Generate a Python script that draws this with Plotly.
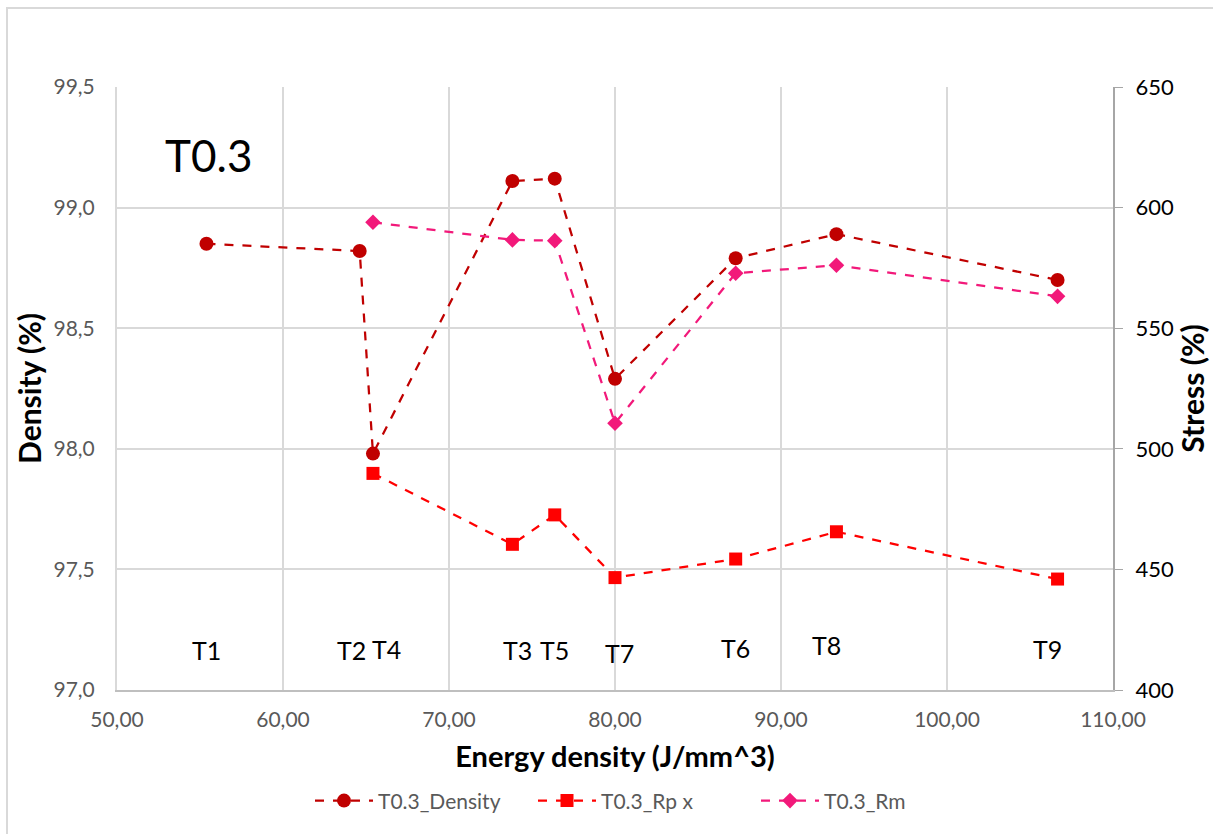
import plotly.graph_objects as go

# Sample names, ordered by energy density
samples = ["T1", "T2", "T4", "T3", "T5", "T7", "T6", "T8", "T9"]
energy = [55.39, 64.62, 65.42, 73.82, 76.37, 80.0, 87.27, 93.34, 106.66]
density = [98.85, 98.82, 97.98, 99.11, 99.12, 98.29, 98.79, 98.89, 98.70]
rp = [None, None, 489.8, 460.4, 472.6, 446.6, 454.3, 465.6, 446.0]
rm = [None, None, 593.9, 586.6, 586.3, 510.6, 572.8, 576.1, 563.2]

x_ticks = [50, 60, 70, 80, 90, 100, 110]
y1_ticks = [97.0, 97.5, 98.0, 98.5, 99.0, 99.5]
y2_ticks = [400, 450, 500, 550, 600, 650]

FONT = "Lato, Open Sans, sans-serif"
GRAY = "#595959"
GRID = "#d9d9d9"

fig = go.Figure()

fig.add_trace(go.Scatter(
    x=energy, y=density, name="T0.3_Density", mode="lines+markers",
    line=dict(color="#C00000", width=2.25, dash="dash"),
    marker=dict(symbol="circle", size=14, color="#C00000"),
    yaxis="y",
))
fig.add_trace(go.Scatter(
    x=energy, y=rp, name="T0.3_Rp x", mode="lines+markers",
    line=dict(color="#FF0000", width=2.25, dash="dash"),
    marker=dict(symbol="square", size=13, color="#FF0000"),
    yaxis="y2", connectgaps=False,
))
fig.add_trace(go.Scatter(
    x=energy, y=rm, name="T0.3_Rm", mode="lines+markers",
    line=dict(color="#F2197A", width=2.25, dash="dash"),
    marker=dict(symbol="diamond", size=12, color="#F2197A"),
    yaxis="y2", connectgaps=False,
))

# Sample labels placed just above the bottom of the plot
label_dx = {"T2": -0.5, "T4": 0.8, "T3": 0.3, "T7": 0.3, "T8": -0.6, "T9": -0.6}
label_y = {"T8": 97.185, "T6": 97.175, "T4": 97.17, "T9": 97.17, "T7": 97.155}
annotations = []
for s, xv in zip(samples, energy):
    annotations.append(dict(
        x=xv + label_dx.get(s, 0.0), y=label_y.get(s, 97.165),
        xref="x", yref="y", text=s, showarrow=False,
        font=dict(family=FONT, size=25, color="#000000"),
    ))
annotations.append(dict(
    x=52.75, y=99.22, xref="x", yref="y", text="T0.3", showarrow=False,
    xanchor="left", font=dict(family=FONT, size=44, color="#000000"),
))

fig.update_layout(
    width=1213, height=834,
    margin=dict(l=117, r=100, t=87, b=144),
    paper_bgcolor="white", plot_bgcolor="white",
    separators=",.",
    font=dict(family=FONT, color=GRAY),
    showlegend=True,
    legend=dict(
        orientation="h", x=(310 - 117) / 996, xanchor="left",
        y=-0.15, yanchor="top",
        font=dict(family=FONT, size=21, color=GRAY),
        itemwidth=58, entrywidth=150, tracegroupgap=0,
    ),
    xaxis=dict(
        range=[50, 110], tickvals=x_ticks, tickformat=".2f",
        showgrid=True, gridcolor=GRID, gridwidth=2,
        showline=True, linecolor="#bfbfbf", linewidth=2,
        ticks="", zeroline=False, ticklabelstandoff=10,
        tickfont=dict(family=FONT, size=21, color=GRAY),
        title=dict(text="<b>Energy density (J/mm^3)</b>",
                   font=dict(family=FONT, size=29, color="#000000"), standoff=16),
    ),
    yaxis=dict(
        range=[97.0, 99.5], tickvals=y1_ticks, tickformat=".1f",
        showgrid=True, gridcolor=GRID, gridwidth=2,
        showline=True, linecolor="#d9d9d9", linewidth=2,
        ticks="", zeroline=False, ticklabelstandoff=16,
        tickfont=dict(family=FONT, size=21, color=GRAY),
        title=dict(text="<b>Density (%)</b>",
                   font=dict(family=FONT, size=30, color="#000000"), standoff=3),
    ),
    yaxis2=dict(
        range=[400, 650], tickvals=y2_ticks, overlaying="y", side="right",
        showgrid=False, zeroline=False,
        showline=True, linecolor="#a6a6a6", linewidth=2,
        ticks="outside", ticklen=8, tickcolor="#a6a6a6", tickwidth=1,
        ticklabelstandoff=8,
        tickfont=dict(family=FONT, size=22, color="#000000"),
        title=dict(text="<b>Stress (%)</b>",
                   font=dict(family=FONT, size=30, color="#000000"), standoff=5),
    ),
    annotations=annotations,
    shapes=[dict(
        type="rect", xref="paper", yref="paper",
        x0=-110 / 996, x1=1.2, y0=-0.4, y1=1 + 79 / 603,
        line=dict(color="#d9d9d9", width=2), fillcolor="rgba(0,0,0,0)",
        layer="below",
    )],
)

fig.write_html("out.html")
